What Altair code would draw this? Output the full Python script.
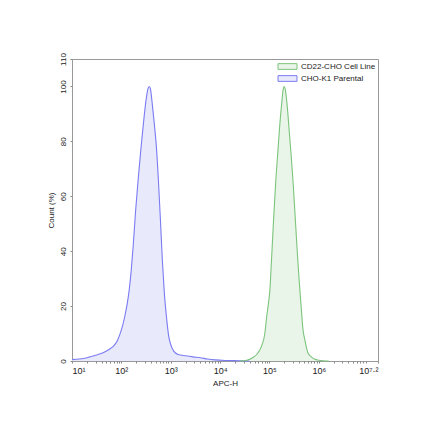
import altair as alt
import pandas as pd
import math

# ---- data (x in log10 units of APC-H, y = Count %) ----
parental_logx = [1.00, 1.15, 1.25, 1.36, 1.50, 1.63, 1.75, 1.84, 1.92, 1.97, 2.02, 2.07,
                 2.12, 2.16, 2.20, 2.24, 2.29, 2.34, 2.40, 2.45, 2.50, 2.54, 2.565, 2.59,
                 2.63, 2.67, 2.71, 2.75, 2.79, 2.83, 2.87, 2.92, 2.96, 3.00, 3.06, 3.15,
                 3.30, 3.45, 3.60, 3.75, 3.90, 4.10, 4.40, 4.60]
parental_y = [0.5, 0.7, 1.0, 1.5, 2.2, 3.0, 4.2, 5.4, 7.5, 9.7, 12.5, 16.3,
              21, 26, 33, 42, 55, 66, 78, 87, 95, 99.2, 100, 99,
              93, 86, 78, 66, 52, 37, 25, 15, 9, 6, 3.6, 2.4,
              1.9, 1.5, 1.2, 0.7, 0.4, 0.2, 0.1, 0.0]

cd22_logx = [4.40, 4.54, 4.67, 4.77, 4.84, 4.91, 4.94, 4.98, 5.01, 5.04, 5.08, 5.13,
             5.17, 5.21, 5.25, 5.28, 5.30, 5.32, 5.36, 5.40, 5.44, 5.48, 5.52, 5.56,
             5.60, 5.65, 5.68, 5.72, 5.78, 5.85, 5.92, 6.00, 6.09, 6.20]
cd22_y = [0.0, 0.3, 1.3, 3.0, 5.4, 10.4, 15.5, 21, 26, 36, 50, 66,
          76, 86, 94, 99, 100, 99, 93, 84, 75, 65, 53, 41,
          30, 18, 11.5, 7.5, 3.0, 1.5, 0.6, 0.3, 0.1, 0.0]

series_names = ["CD22-CHO Cell Line", "CHO-K1 Parental"]
stroke_colors = ["#7cc47c", "#7b7bf2"]
fill_colors = ["#eaf5ea", "#e9e9fc"]

x_major_values = [1, 2, 3, 4, 5, 6, 7.2]
x_major_labels = ["10¹", "10²", "10³", "10⁴", "10⁵", "10⁶", "10⁷·²"]
y_tick_values = [0, 20, 40, 60, 80, 100, 110]

rows = []
for lx, yv in zip(parental_logx, parental_y):
    rows.append({"series": series_names[1], "logx": lx, "count": yv})
for lx, yv in zip(cd22_logx, cd22_y):
    rows.append({"series": series_names[0], "logx": lx, "count": yv})
df = pd.DataFrame(rows)

# minor tick positions (log10 of 2..9 x 10^k)
x_minor = [round(k + math.log10(m), 4) for k in range(1, 7) for m in range(2, 10)
           if k + math.log10(m) < 7.2]
x_all_ticks = sorted(set(x_major_values + x_minor))

label_expr = ""
for v, lab in zip(x_major_values, x_major_labels):
    label_expr += f"abs(datum.value - {v}) < 0.0001 ? '{lab}' : "
label_expr += "''"

FONT = "Liberation Sans"

x_enc = alt.X("logx:Q",
              scale=alt.Scale(domain=[1, 7.2], nice=False, zero=False),
              axis=alt.Axis(title="APC-H", values=x_all_ticks, labelExpr=label_expr,
                            labelOverlap=False, grid=False, domain=False,
                            tickSize=2, tickColor="#888", labelPadding=3,
                            labelFont=FONT, labelFontSize=9, labelColor="#222",
                            titleFont=FONT, titleFontSize=8, titleFontWeight="normal",
                            titleColor="#222", titlePadding=4))
y_enc = alt.Y("count:Q",
              scale=alt.Scale(domain=[0, 110], nice=False),
              axis=alt.Axis(title="Count (%)", values=y_tick_values, grid=False,
                            domain=False, tickSize=2, tickColor="#888",
                            labelAngle=270, labelAlign="center", labelBaseline="bottom",
                            labelPadding=3, labelFont=FONT, labelFontSize=8,
                            labelColor="#222", titleFont=FONT, titleFontSize=8,
                            titleFontWeight="normal", titleColor="#222", titlePadding=4))

legend = alt.Legend(title=None, orient="top-right", offset=2, padding=0,
                    symbolType="M-2,-0.6H2V0.6H-2Z", symbolSize=90,
                    symbolStrokeWidth=1, labelFont=FONT, labelFontSize=8,
                    labelColor="#222", rowPadding=1, labelOffset=8)

fill_scale = alt.Scale(domain=series_names, range=fill_colors)
stroke_scale = alt.Scale(domain=series_names, range=stroke_colors)

area = alt.Chart(df).mark_area(interpolate="monotone", opacity=1).encode(
    x=x_enc, y=y_enc,
    fill=alt.Fill("series:N", scale=fill_scale, legend=legend, sort=series_names),
    detail="series:N",
)
line = alt.Chart(df).mark_line(interpolate="monotone", strokeWidth=1.1).encode(
    x=x_enc, y=y_enc,
    stroke=alt.Stroke("series:N", scale=stroke_scale, legend=legend, sort=series_names),
    detail="series:N",
)

chart = alt.layer(area, line).properties(
    width=306, height=302,
    autosize=alt.AutoSizeParams(type="none"),
    padding={"left": 64, "top": 51, "right": 54, "bottom": 63},
    background="white",
).configure_view(stroke="#999", strokeWidth=1)

chart.save("out.html", embed_options={"renderer": "svg", "actions": False})
